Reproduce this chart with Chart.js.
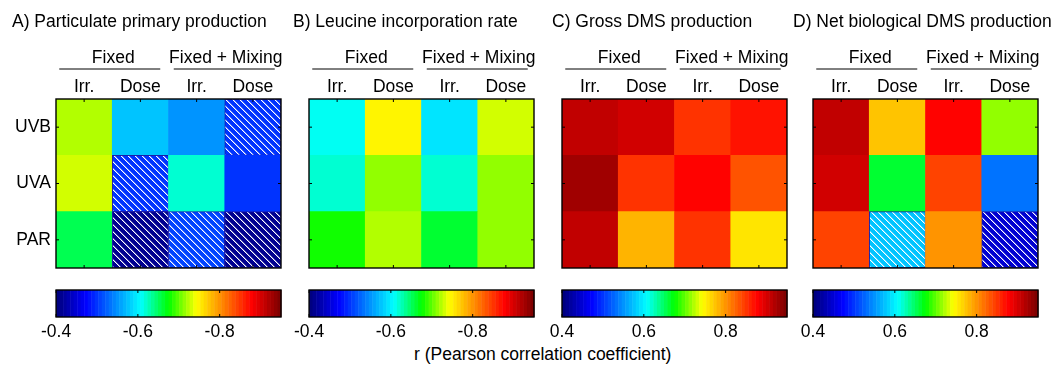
<!DOCTYPE html>
<html>
<head>
<meta charset="utf-8">
<script src="https://cdn.jsdelivr.net/npm/chart.js@4.4.0/dist/chart.umd.min.js"></script>
<style>
    body { margin: 0; background: #fff; }
    #page { position: relative; width: 1056px; height: 366px; overflow: hidden; }
    canvas { position: absolute; }
    #cbLabel { position: absolute; left: 414px; top: 344px; font: 17.5px 'Liberation Sans', Arial, sans-serif; color: #000; white-space: nowrap; }
</style>
</head>
<body>
<div id="page">
    <div id="cbLabel">r (Pearson correlation coefficient)</div>
</div>
<script>
var columnLabels = ['Irr.', 'Dose', 'Irr.', 'Dose'];
var groupLabels = ['Fixed', 'Fixed + Mixing'];
var rowLabels = ['PAR', 'UVA', 'UVB']; // bottom to top
var panelTitles = ['A) Particulate primary production', 'B) Leucine incorporation rate',
    'C) Gross DMS production', 'D) Net biological DMS production'];

// r values, columns: Fixed Irr., Fixed Dose, Mixing Irr., Mixing Dose
var primaryPAR = [-0.65, -0.41, -0.51, -0.41];
var primaryUVA = [-0.73, -0.50, -0.62, -0.50];
var primaryUVB = [-0.725, -0.58, -0.55, -0.50];
var leucinePAR = [-0.68, -0.725, -0.66, -0.715];
var leucineUVA = [-0.62, -0.715, -0.62, -0.71];
var leucineUVB = [-0.61, -0.745, -0.59, -0.73];
var grossPAR = [0.915, 0.78, 0.847, 0.76];
var grossUVA = [0.93, 0.847, 0.88, 0.83];
var grossUVB = [0.915, 0.90, 0.855, 0.865];
var netPAR = [0.84, 0.58, 0.80, 0.45];
var netUVA = [0.90, 0.66, 0.84, 0.53];
var netUVB = [0.915, 0.77, 0.88, 0.71];

// 1 = not significant (hatched)
var primaryNS = [[0, 1, 1, 1], [0, 1, 0, 0], [0, 0, 0, 1]];
var leucineNS = [[0, 0, 0, 0], [0, 0, 0, 0], [0, 0, 0, 0]];
var grossNS = [[0, 0, 0, 0], [0, 0, 0, 0], [0, 0, 0, 0]];
var netNS = [[0, 1, 0, 1], [0, 0, 0, 0], [0, 0, 0, 0]];

var negTicks = [-0.4, -0.6, -0.8];
var posTicks = [0.4, 0.6, 0.8];
var rMin = 0.4, rMax = 0.95;

// layout
var plotLeft = [56, 309, 562, 813];
var titleX = [12, 293, 552, 793];
var FONT = "'Liberation Sans', Arial, sans-serif";
var FONT_SIZE = 17.5;

Chart.defaults.font.family = FONT;
Chart.defaults.font.size = FONT_SIZE;
Chart.defaults.color = '#000';

var jetStops = [[0, 0, 0, 128], [0.125, 0, 0, 255], [0.375, 0, 255, 255], [0.5, 0, 255, 0],
    [0.625, 255, 255, 0], [0.875, 255, 0, 0], [1, 128, 0, 0]];

function jetRgb(t) {
    var k = Math.min(63, Math.max(0, Math.floor(t * 64)));
    t = k / 63;
    for (var i = 1; i < jetStops.length; i++) {
        var a = jetStops[i - 1], b = jetStops[i];
        if (t <= b[0]) {
            var f = (t - a[0]) / (b[0] - a[0]);
            return [0, 1, 2].map(function (c) { return Math.round(a[c + 1] + f * (b[c + 1] - a[c + 1])); });
        }
    }
    return [128, 0, 0];
}

function colorFor(v) {
    var c = jetRgb((Math.abs(v) - rMin) / (rMax - rMin));
    return 'rgb(' + c[0] + ',' + c[1] + ',' + c[2] + ')';
}

function hatchPattern(ctx, color) {
    var s = 7;
    var tile = document.createElement('canvas');
    tile.width = s;
    tile.height = s;
    var t = tile.getContext('2d');
    t.fillStyle = color;
    t.fillRect(0, 0, s, s);
    for (var i = 0; i < s; i++) {
        t.fillStyle = '#fff';
        t.fillRect(i, i, 1, 1);
        t.fillStyle = 'rgba(255,255,255,0.4)';
        t.fillRect((i + 1) % s, i, 1, 1);
    }
    return ctx.createPattern(tile, 'repeat');
}

var panelDecor = {
    id: 'panelDecor',
    afterDraw: function (chart) {
        var o = chart.options.plugins.panelDecor;
        var ctx = chart.ctx, a = chart.chartArea;
        var xs = chart.scales.x, ys = chart.scales.y;
        ctx.save();
        // frame
        ctx.strokeStyle = '#000';
        ctx.lineWidth = 1.4;
        ctx.strokeRect(a.left, a.top, a.right - a.left, a.bottom - a.top);
        // inner ticks
        ctx.lineWidth = 1;
        ctx.beginPath();
        columnLabels.forEach(function (l, j) {
            var px = xs.getPixelForValue(j);
            ctx.moveTo(px, a.top); ctx.lineTo(px, a.top + 3);
            ctx.moveTo(px, a.bottom); ctx.lineTo(px, a.bottom - 3);
        });
        rowLabels.forEach(function (l, r) {
            var py = ys.getPixelForValue(r + 0.5);
            ctx.moveTo(a.left, py); ctx.lineTo(a.left + 3, py);
            ctx.moveTo(a.right, py); ctx.lineTo(a.right - 3, py);
        });
        ctx.stroke();

        ctx.fillStyle = '#000';
        ctx.font = FONT_SIZE + 'px ' + FONT;
        ctx.textBaseline = 'middle';
        // title
        ctx.textAlign = 'left';
        ctx.fillText(o.title, o.titleX, 22);
        // group labels and lines
        ctx.textAlign = 'center';
        groupLabels.forEach(function (g, k) {
            var gc = (xs.getPixelForValue(2 * k) + xs.getPixelForValue(2 * k + 1)) / 2;
            ctx.fillText(g, gc + 1, 58);
            ctx.beginPath();
            ctx.moveTo(gc - 53 + 2 * k, 69);
            ctx.lineTo(gc + 48 + 2 * k, 69);
            ctx.stroke();
        });
        // column labels
        columnLabels.forEach(function (l, j) {
            ctx.fillText(l, xs.getPixelForValue(j), 87);
        });
        // row labels
        if (o.rowLabels) {
            ctx.textAlign = 'right';
            rowLabels.forEach(function (l, r) {
                ctx.fillText(l, a.left - 5, ys.getPixelForValue(r + 0.5));
            });
        }
        ctx.restore();
    }
};

function heatChart(i, rows, ns) {
    var canvas = document.createElement('canvas');
    canvas.width = 299;
    canvas.height = 275;
    canvas.style.left = (plotLeft[i] - 56) + 'px';
    canvas.style.top = '0px';
    document.getElementById('page').appendChild(canvas);
    var ctx = canvas.getContext('2d');

    var datasets = rowLabels.map(function (row, r) {
        var vals = rows[r];
        return {
            label: row,
            data: vals.map(function () { return 1; }),
            backgroundColor: vals.map(function (v, j) {
                return ns[r][j] ? hatchPattern(ctx, colorFor(v)) : colorFor(v);
            }),
            borderColor: '#1b1ba8',
            borderWidth: vals.map(function (v, j) { return ns[r][j] ? 1 : 0; }),
            borderSkipped: false,
            barPercentage: 1,
            categoryPercentage: 1
        };
    });

    return new Chart(ctx, {
        type: 'bar',
        data: { labels: columnLabels, datasets: datasets },
        options: {
            responsive: false,
            animation: false,
            events: [],
            layout: { padding: { left: 56, right: 18, top: 99, bottom: 7 } },
            scales: {
                x: { stacked: true, display: false },
                y: { stacked: true, display: false, min: 0, max: 3 }
            },
            plugins: {
                legend: { display: false },
                tooltip: { enabled: false },
                panelDecor: { title: panelTitles[i], titleX: titleX[i] - (plotLeft[i] - 56), rowLabels: i === 0 }
            }
        },
        plugins: [panelDecor]
    });
}

var colorbarDraw = {
    id: 'colorbarDraw',
    afterDraw: function (chart) {
        var sign = chart.options.plugins.colorbarDraw.sign;
        var ticks = chart.options.plugins.colorbarDraw.ticks;
        var ctx = chart.ctx, a = chart.chartArea, xs = chart.scales.x;
        ctx.save();
        for (var k = 0; k < 64; k++) {
            var v0 = rMin + k / 64 * (rMax - rMin);
            var v1 = rMin + (k + 1) / 64 * (rMax - rMin);
            var p0 = xs.getPixelForValue(sign * v0), p1 = xs.getPixelForValue(sign * v1);
            ctx.fillStyle = colorFor(v0 + 1e-6);
            ctx.fillRect(Math.min(p0, p1), a.top, Math.abs(p1 - p0) + 0.5, a.bottom - a.top);
        }
        ctx.strokeStyle = '#000';
        ctx.lineWidth = 1.4;
        ctx.strokeRect(a.left, a.top, a.right - a.left, a.bottom - a.top);
        ctx.lineWidth = 1;
        ctx.beginPath();
        ticks.forEach(function (t) {
            var px = xs.getPixelForValue(t);
            ctx.moveTo(px, a.top); ctx.lineTo(px, a.top + 3);
            ctx.moveTo(px, a.bottom); ctx.lineTo(px, a.bottom - 3);
        });
        ctx.stroke();
        ctx.restore();
    }
};

function colorbar(i, ticks) {
    var sign = ticks[0] < 0 ? -1 : 1;
    var canvas = document.createElement('canvas');
    canvas.width = 265;
    canvas.height = 70;
    canvas.style.left = (plotLeft[i] - 20) + 'px';
    canvas.style.top = '280px';
    document.getElementById('page').appendChild(canvas);

    return new Chart(canvas.getContext('2d'), {
        type: 'scatter',
        data: { datasets: [{ data: [] }] },
        options: {
            responsive: false,
            animation: false,
            events: [],
            layout: { padding: { left: 20, right: 20, top: 10, bottom: 0 } },
            scales: {
                x: {
                    type: 'linear',
                    min: sign < 0 ? -rMax : rMin,
                    max: sign < 0 ? -rMin : rMax,
                    reverse: sign < 0,
                    grid: { display: false, drawTicks: false },
                    border: { display: false },
                    ticks: {
                        padding: 5,
                        maxRotation: 0,
                        font: { size: FONT_SIZE },
                        color: '#000',
                        callback: function (v) { return v.toFixed(1); }
                    },
                    afterBuildTicks: function (s) {
                        s.ticks = ticks.map(function (v) { return { value: v }; });
                    },
                    afterFit: function (s) { s.height = 33; }
                },
                y: { display: false, min: 0, max: 1 }
            },
            plugins: {
                legend: { display: false },
                tooltip: { enabled: false },
                colorbarDraw: { sign: sign, ticks: ticks }
            }
        },
        plugins: [colorbarDraw]
    });
}

heatChart(0, [primaryPAR, primaryUVA, primaryUVB], primaryNS);
heatChart(1, [leucinePAR, leucineUVA, leucineUVB], leucineNS);
heatChart(2, [grossPAR, grossUVA, grossUVB], grossNS);
heatChart(3, [netPAR, netUVA, netUVB], netNS);

colorbar(0, negTicks);
colorbar(1, negTicks);
colorbar(2, posTicks);
colorbar(3, posTicks);
</script>
</body>
</html>
